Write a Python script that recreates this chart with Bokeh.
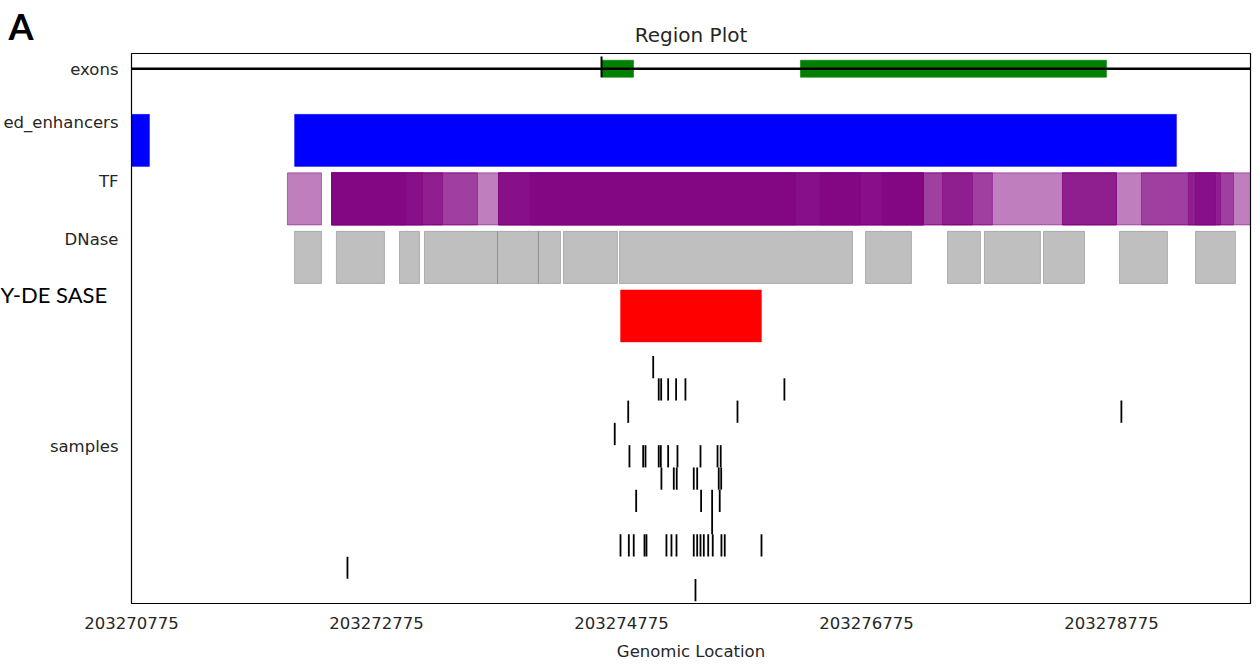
from bokeh.plotting import figure
from bokeh.models import Range1d, FixedTicker, Label, ColumnDataSource, LinearAxis
from bokeh.core.properties import value
from bokeh.embed import file_html
from bokeh.resources import INLINE

# ---- genomic window and axis ticks ----
x_start = 203270775
x_end = 203279910
x_ticks = [203270775, 203272775, 203274775, 203276775, 203278775]
x_tick_labels = ["203270775", "203272775", "203274775", "203276775", "203278775"]
x_axis_title = "Genomic Location"

# ---- track names ----
track_labels = ["exons", "ed_enhancers", "TF", "DNase", "samples"]
sase_label = "Y-DE SASE"
title_text = "Region Plot"
panel_letter = "A"

# ---- exons ----
gene_start = 203270775
gene_end = 203280100
tss = 203274612
exon_starts = [203274612, 203276236]
exon_ends = [203274873, 203278734]

# ---- enhancers ----
enh_starts = [203270600, 203272106]
enh_ends = [203270922, 203279306]

# ---- TF binding peaks ----
tf_starts = [203272048, 203272408,
             203272408, 203273771, 203278375, 203279020,
             203272408, 203273771, 203277395, 203278375, 203279403,
             203272408, 203273771, 203279461,
             203272408, 203274032, 203276399, 203276905]
tf_ends = [203272326, 203280100,
           203273599, 203277803, 203278816, 203279771,
           203273314, 203277240, 203277640, 203278816, 203279665,
           203273150, 203277240, 203279624,
           203273012, 203276195, 203276726, 203277240]

# ---- DNase hypersensitive sites ----
dnase_starts = [203272106, 203272448, 203272963, 203273167, 203273763, 203274097,
                203274301, 203274759, 203276767, 203277436, 203277738, 203278220,
                203278840, 203279461]
dnase_ends = [203272326, 203272840, 203273126, 203273763, 203274097, 203274277,
              203274742, 203276661, 203277142, 203277705, 203278195, 203278555,
              203279232, 203279787]

# ---- SASE region ----
sase_starts = [203274767]
sase_ends = [203275918]

# ---- per-sample variant positions ----
sample_positions = [
    [203275034],
    [203275079, 203275099, 203275156, 203275221, 203275297, 203276105],
    [203274830, 203275722, 203278856],
    [203274720],
    [203274840, 203274952, 203274971, 203275079, 203275096, 203275156, 203275232,
     203275420, 203275559, 203275585],
    [203275101, 203275202, 203275226, 203275365, 203275393, 203275569, 203275589],
    [203274895, 203275425, 203275515, 203275577],
    [203275515],
    [203274767, 203274835, 203274875, 203274963, 203274979, 203275142, 203275183,
     203275224, 203275365, 203275393, 203275420, 203275447, 203275483, 203275520,
     203275591, 203275618, 203275918],
    [203272538],
    [203275379],
]

# ---- layout constants ----
W, H = 1260, 667
BOX_LEFT_PX, BOX_TOP_PX = 131, 53          # plot box position on the page
BOX_W_PX, BOX_H_PX = 1119, 550              # plot box size
RIGHT_PAD_PX, BOTTOM_PAD_PX = 2, 2          # room so the box edges are not clipped
BP_PER_PX = (x_end - x_start) / BOX_W_PX

Y_MAX = 9.4                                 # track units inside the box (downward)
PX_PER_UNIT = BOX_H_PX / Y_MAX
RECT_TOP_OFF = 0.04
RECT_BOT_OFF = 0.93
LABEL_OFF = 0.18
EXON_Y = 0.26
EXON_HALF = 0.145
SAMPLE_Y0 = 5.36
SAMPLE_PITCH = 0.381
SAMPLE_HALF = 0.19
SAMPLES_LABEL_Y = 6.72

frame_w = BOX_LEFT_PX + BOX_W_PX + RIGHT_PAD_PX
frame_h = BOX_TOP_PX + BOX_H_PX + BOTTOM_PAD_PX
x_lo = x_start - BOX_LEFT_PX * BP_PER_PX
x_hi = x_end + RIGHT_PAD_PX * BP_PER_PX
y_top = -BOX_TOP_PX / PX_PER_UNIT
y_bot = Y_MAX + BOTTOM_PAD_PX / PX_PER_UNIT


def px_to_bp(px):
    return x_start + (px - BOX_LEFT_PX) * BP_PER_PX


def py_to_unit(py):
    return (py - BOX_TOP_PX) / PX_PER_UNIT


text_color = "#262626"

p = figure(width=W, height=H, output_backend="svg", toolbar_location=None,
           x_range=Range1d(x_lo, x_hi), y_range=Range1d(y_bot, y_top),
           title_location=None,
           min_border_left=0, min_border_right=W - frame_w,
           min_border_top=0, min_border_bottom=H - frame_h)
p.background_fill_color = "white"
p.border_fill_color = "white"
p.grid.visible = False
p.outline_line_color = None
p.yaxis.visible = False


def clip_x(vals):
    return [min(max(v, x_start), x_end) for v in vals]


def track_quads(starts, ends, idx, **kw):
    src = ColumnDataSource(dict(left=clip_x(starts), right=clip_x(ends),
                                top=[idx + RECT_TOP_OFF] * len(starts),
                                bottom=[idx + RECT_BOT_OFF] * len(starts)))
    p.quad(left="left", right="right", top="top", bottom="bottom", source=src, **kw)


# exons track: exon blocks, TSS tick and gene line
p.quad(left=exon_starts, right=exon_ends,
       top=[EXON_Y - EXON_HALF] * len(exon_starts),
       bottom=[EXON_Y + EXON_HALF] * len(exon_starts),
       fill_color="green", line_color="green", line_alpha=0.6)
p.segment(x0=[tss], x1=[tss], y0=[EXON_Y - 0.21], y1=[EXON_Y + EXON_HALF],
          line_color="black", line_width=2)
p.segment(x0=clip_x([gene_start]), x1=clip_x([gene_end]), y0=[EXON_Y], y1=[EXON_Y],
          line_color="black", line_width=2.5)

# enhancers
track_quads(enh_starts, enh_ends, 1, fill_color="blue", line_color="blue",
            line_alpha=0.4)
# TF peaks (semi-transparent so overlaps darken)
track_quads(tf_starts, tf_ends, 2, fill_color="purple", fill_alpha=0.5,
            line_color="purple", line_alpha=0.5, line_width=1)
# DNase sites
track_quads(dnase_starts, dnase_ends, 3, fill_color="gray", fill_alpha=0.5,
            line_color="gray", line_alpha=0.5, line_width=1)
# SASE region
track_quads(sase_starts, sase_ends, 4, fill_color="red", line_color="red",
            line_alpha=0.4)

# sample variant ticks
xs, y0s, y1s = [], [], []
for j, row in enumerate(sample_positions):
    yc = SAMPLE_Y0 + SAMPLE_PITCH * j
    for pos in row:
        xs.append(pos)
        y0s.append(yc - SAMPLE_HALF)
        y1s.append(yc + SAMPLE_HALF)
p.segment(x0=xs, x1=xs, y0=y0s, y1=y1s, line_color="black", line_width=1.8)

# plot box
p.quad(left=[x_start], right=[x_end], top=[0], bottom=[Y_MAX],
       fill_color=None, line_color="black", line_width=1.2)

# track names on the left of the box
name_src = ColumnDataSource(dict(
    x=[px_to_bp(BOX_LEFT_PX - 13)] * len(track_labels),
    y=[EXON_Y + 0.01, 1 + LABEL_OFF, 2 + LABEL_OFF, 3 + LABEL_OFF, SAMPLES_LABEL_Y],
    text=track_labels))
p.text(x="x", y="y", text="text", source=name_src,
       text_font=value("DejaVu Sans"), text_font_size="16.5px",
       text_color=text_color, text_align="right", text_baseline="middle")

p.add_layout(Label(x=px_to_bp(0), y=4 + 0.12, text=sase_label,
                   text_font="Lato", text_font_size="22px", text_color="black",
                   text_baseline="middle", text_align="left"))

# title and panel letter above the box
p.add_layout(Label(x=(x_start + x_end) / 2, y=py_to_unit(34), text=title_text,
                   text_font="DejaVu Sans", text_font_size="20px",
                   text_color=text_color, text_baseline="middle", text_align="center"))
p.add_layout(Label(x=px_to_bp(8), y=py_to_unit(25), text=panel_letter,
                   text_font="Lato", text_font_style="bold", text_font_size="36px",
                   text_color="black", text_baseline="middle", text_align="left"))


def style_axis(ax, standoff):
    ax.axis_line_color = None
    ax.major_tick_line_color = None
    ax.minor_tick_line_color = None
    ax.major_tick_out = 0
    ax.major_tick_in = 0
    ax.minor_tick_out = 0
    ax.minor_tick_in = 0
    ax.major_label_standoff = standoff
    ax.major_label_text_font = "DejaVu Sans"
    ax.major_label_text_font_size = "16.5px"
    ax.major_label_text_color = text_color


# x axis with genomic coordinates
p.xaxis.ticker = FixedTicker(ticks=x_ticks)
p.xaxis.major_label_overrides = dict(zip(x_ticks, x_tick_labels))
style_axis(p.xaxis[0], 11)

# axis title, centred under the plot box
box_mid = (x_start + x_end) / 2
title_axis = LinearAxis(ticker=FixedTicker(ticks=[box_mid]),
                        major_label_overrides={box_mid: x_axis_title})
style_axis(title_axis, 10)
p.add_layout(title_axis, "below")

open("out.html", "w").write(file_html(p, INLINE))
